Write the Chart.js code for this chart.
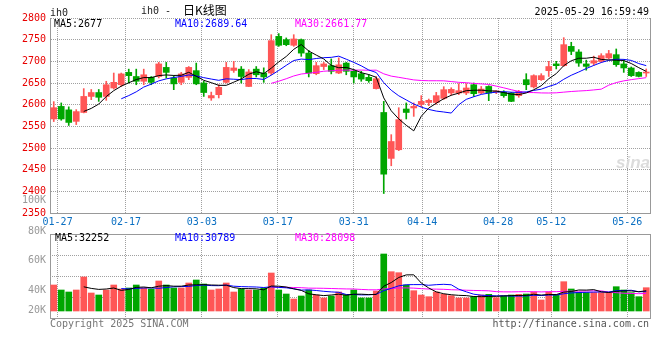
<!DOCTYPE html>
<html>
<head>
<meta charset="utf-8">
<script src="https://cdn.jsdelivr.net/npm/chart.js@4.4.1/dist/chart.umd.min.js"></script>
<style>
html,body{margin:0;padding:0;background:#fff;}
#wrap{position:relative;width:660px;height:360px;overflow:hidden;font-family:"DejaVu Sans Mono",monospace;font-size:10px;}
canvas{position:absolute;left:0;}
.t{position:absolute;white-space:pre;line-height:12px;}
</style>
</head>
<body>
<div id="wrap">
  <canvas id="main" width="660" height="236" style="top:0"></canvas>
  <canvas id="vol" width="660" height="150" style="top:195px"></canvas>
  <span class="t" style="left:50px;top:7px;color:#222">ih0</span>
  <span class="t" style="left:141px;top:5px;color:#222">ih0 -</span>
  <span class="t" style="left:183px;top:3px;font:12px/14px 'Noto Sans CJK SC';color:#000">日K线图</span>
  <span class="t" style="right:11px;top:6px;color:#000">2025-05-29 16:59:49</span>
  <span class="t" style="left:54px;top:18px;color:#000">MA5:2677</span>
  <span class="t" style="left:175px;top:18px;color:#0000ff">MA10:2689.64</span>
  <span class="t" style="left:295px;top:18px;color:#ff00ff">MA30:2661.77</span>
  <span class="t" style="left:55px;top:232px;color:#000">MA5:32252</span>
  <span class="t" style="left:175px;top:232px;color:#0000ff">MA10:30789</span>
  <span class="t" style="left:295px;top:232px;color:#ff00ff">MA30:28098</span>
  <span class="t" style="left:616px;top:153px;font:italic bold 17px/20px 'Liberation Sans';color:#dcdcdc">sina</span>
  <span class="t" style="left:50px;top:318px;color:#777">Copyright 2025 SINA.COM</span>
  <span class="t" style="right:11px;top:318px;color:#555">http://finance.sina.com.cn</span>
</div>
<script>
// ---- data ----
const dates = ['01-24','01-27','02-05','02-06','02-07','02-10','02-11','02-12','02-13','02-14',
'02-17','02-18','02-19','02-20','02-21','02-24','02-25','02-26','02-27','02-28',
'03-03','03-04','03-05','03-06','03-07','03-10','03-11','03-12','03-13','03-14',
'03-17','03-18','03-19','03-20','03-21','03-24','03-25','03-26','03-27','03-28',
'03-31','04-01','04-02','04-03','04-07','04-08','04-09','04-10','04-11','04-14',
'04-15','04-16','04-17','04-18','04-21','04-22','04-23','04-24','04-25','04-28',
'04-29','04-30','05-06','05-07','05-08','05-09','05-12','05-13','05-14','05-15',
'05-16','05-19','05-20','05-21','05-22','05-23','05-26','05-27','05-28','05-29'];

const tickDates = ['01-27','02-17','03-03','03-17','03-31','04-14','04-28','05-12','05-26'];

const open = [2567,2596,2588,2561.5,2582,2619,2628,2619,2638.5,2646,
2674.5,2665,2654,2663,2665,2686,2661.6,2651.5,2663,2678.5,
2650,2615.5,2623,2651.5,2679,2682,2642,2682,2673,2673,
2757.6,2750,2737,2750,2719,2671.5,2688,2690,2673,2696,
2677,2671.5,2663,2637,2582,2476,2496,2590,2592.4,2600.7,
2605,2605,2614.5,2627,2627,2627,2646,2627,2642,2629.3,
2628.4,2627,2620.8,2657.7,2641,2657.7,2678.5,2694,2690,2734.5,
2721.6,2694,2695.8,2700,2707.8,2715.4,2694,2684.7,2674.5,2673];

const high = [2607,2604,2595,2588.5,2637,2635,2635,2654,2673,2673,
2682,2682,2682,2665,2697.6,2697.6,2667,2674.5,2688,2696,
2654,2629,2646,2697.6,2700,2688,2681,2688,2685,2761.5,
2764,2754,2761.5,2751.6,2725,2697.6,2697.6,2705.5,2708,2697.6,
2681,2677,2669,2665,2607.6,2530.8,2593,2604,2604,2620.8,
2613,2628.4,2641.5,2639,2648.5,2648.5,2650,2642,2643.7,2632.3,
2632.3,2628.4,2633,2671.5,2669,2671.5,2700,2700,2754.6,2744,
2727,2702.7,2712,2717.7,2725.3,2728.5,2703.8,2687,2676,2682.4];

const low = [2561,2564,2552,2554,2581,2611.5,2607.6,2610,2636,2642,
2650,2646,2646,2646,2661.6,2661.6,2634.6,2646,2657.7,2646,
2619,2610,2615.5,2650,2674.5,2650,2641.5,2664,2651.5,2669,
2734.5,2736,2734.5,2711.5,2664,2669,2681,2671,2671.5,2669,
2650,2654,2651.5,2636,2395,2459,2494,2567,2573,2594.7,
2597.7,2601,2612,2622,2623,2623,2619,2625.4,2609.2,2625.4,
2617,2607,2617,2634.6,2638.5,2656,2665,2682.4,2688.4,2715.4,
2688.4,2679.6,2691,2697.6,2705.5,2688.4,2674.5,2665,2664,2665];

const close = [2593,2567,2559,2584,2619,2628,2617,2646,2651.5,2671,
2667,2654,2669,2651.5,2694,2674.5,2648,2671,2686,2648,
2628,2621,2640,2686,2684.7,2665,2675.5,2669,2664,2747.7,
2737,2738.5,2751.6,2719,2673,2690,2694,2677,2692,2677,
2664,2659,2655.4,2660,2439.6,2515,2565.4,2582,2596,2607.6,
2610,2620.8,2634.6,2635.3,2632.3,2638.5,2625.4,2636,2627,2630,
2620.8,2607.6,2630.7,2646,2667,2667,2688,2690,2738.5,2723,
2696,2688.4,2701.5,2713,2717.7,2692.3,2684.7,2667,2665.3,2674.5];

const volume = [41600,33600,30400,33600,54400,28800,25600,33600,41600,35200,
36800,41600,36800,35200,48000,41600,36800,36800,44800,49600,
43200,33600,35200,44800,30400,35200,33600,33600,36800,60800,
33600,27200,19200,24000,33600,25600,20800,24000,30400,25600,
33600,20800,20800,32000,91200,62900,61300,41600,32500,25600,
22900,30400,26700,24500,20800,20800,22900,25600,26700,21300,
24000,25600,26700,27200,30400,17600,30400,25600,46900,35200,
30000,29500,29500,29500,29500,38900,33600,29300,22900,37300];

const priceTicks = [2350,2400,2450,2500,2550,2600,2650,2700,2750,2800];
const volTickLabels = ['20K','40K','60K','80K','100K'];

// ---- derived ----
const RED = '#ff5656', GREEN = '#00a600';
const candleColors = close.map((c, i) => c >= open[i] ? RED : GREEN);
function movingAvg(arr, n) {
  return arr.map((_, i) => i < n - 1 ? null : arr.slice(i - n + 1, i + 1).reduce((a, b) => a + b, 0) / n);
}
const tickIdx = tickDates.map(d => dates.indexOf(d));
const MONO = {family: 'DejaVu Sans Mono', size: 10};
const GRID = '#a0a0a0';
const AXIS = '#999999';
const DASH = [1, 1];

function lineDs(data, color, axis) {
  return {type: 'line', data, borderColor: color, borderWidth: 1, pointRadius: 0,
          tension: 0, fill: false, spanGaps: false, order: 0, xAxisID: 'x', yAxisID: axis};
}

const common = {
  responsive: false, animation: false, devicePixelRatio: 1, events: [],
  plugins: {legend: {display: false}, tooltip: {enabled: false}}
};

// dotted horizontal grid lines of the helper scale 'vg' (drawn under the data)
const dottedGrid = {
  id: 'dottedGrid',
  beforeDatasetsDraw(chart) {
    const s = chart.scales.vg;
    if (!s) return;
    const {ctx, chartArea: a} = chart;
    ctx.save();
    ctx.strokeStyle = GRID;
    ctx.lineWidth = 1;
    ctx.setLineDash(DASH);
    [1, 2, 3].forEach(v => {
      const y = Math.round(s.getPixelForValue(v)) + 0.5;
      ctx.beginPath();
      ctx.moveTo(a.left, y);
      ctx.lineTo(a.right, y);
      ctx.stroke();
    });
    ctx.restore();
  }
};

// ---- main (candlestick) chart ----
new Chart(document.getElementById('main'), {
  type: 'bar',
  data: {
    labels: dates,
    datasets: [
      lineDs(movingAvg(close, 5), '#000000', 'y'),
      lineDs(movingAvg(close, 10), '#0000ff', 'y'),
      lineDs(movingAvg(close, 30), '#ff00ff', 'y'),
      {type: 'bar', data: open.map((o, i) => [o, close[i]]), backgroundColor: candleColors,
       barThickness: 6, minBarLength: 1, grouped: false, order: 1, xAxisID: 'x', yAxisID: 'y'},
      {type: 'bar', data: low.map((l, i) => [l, high[i]]), backgroundColor: candleColors,
       barThickness: 1, grouped: false, order: 2, xAxisID: 'x', yAxisID: 'y'}
    ]
  },
  options: Object.assign({}, common, {
    layout: {padding: {top: 18, right: 10, left: 0, bottom: 0}},
    scales: {
      x: {type: 'category', display: false, offset: true, grid: {offset: true}},
      xg: {type: 'linear', position: 'bottom', min: 0, max: dates.length - 1, offset: false,
           afterBuildTicks: s => { s.ticks = tickIdx.map(v => ({value: v})); },
           afterFit: s => { s.height = 23; },
           ticks: {autoSkip: false, maxRotation: 0, minRotation: 0, color: '#0a6fc2', font: MONO, padding: 3,
                   callback: v => dates[v]},
           grid: {offset: false, color: GRID, drawTicks: false, lineWidth: 1},
           border: {display: true, color: AXIS, width: 1, dash: DASH}},
      y: {type: 'linear', position: 'left', min: 2350, max: 2800, beginAtZero: false,
          afterBuildTicks: s => { s.ticks = priceTicks.map(v => ({value: v})); },
          afterFit: s => { s.width = 50; },
          ticks: {autoSkip: false, color: '#e80000', font: MONO, padding: 4, callback: v => String(v)},
          grid: {color: GRID, drawTicks: false, lineWidth: 1},
          border: {display: true, color: AXIS, width: 1, dash: DASH}},
      yr: {type: 'linear', position: 'right', min: 0, max: 1,
           afterFit: s => { s.width = 0; },
           ticks: {display: false}, grid: {display: false, drawTicks: false},
           border: {display: true, color: AXIS, width: 1}}
    }
  })
});

// ---- volume chart ----
// volume axis: value 0 sits at page y 311, 1600 per pixel; tick labels placed where the reference prints them
const VOL_MIN = -11200, VOL_MAX = 123200;
const volLabelValues = [480, 32480, 81600, 128000, 177600];
new Chart(document.getElementById('vol'), {
  type: 'bar',
  data: {
    labels: dates,
    datasets: [
      lineDs(movingAvg(volume, 5), '#000000', 'v'),
      lineDs(movingAvg(volume, 10), '#0000ff', 'v'),
      lineDs(movingAvg(volume, 30), '#ff00ff', 'v'),
      {type: 'bar', data: volume, backgroundColor: candleColors, barThickness: 6,
       grouped: false, order: 1, xAxisID: 'x', yAxisID: 'v'}
    ]
  },
  plugins: [dottedGrid],
  options: Object.assign({}, common, {
    layout: {padding: {top: 39, right: 10, left: 0, bottom: 27}},
    scales: {
      x: {type: 'category', display: false, offset: true, grid: {offset: true}},
      xg: {type: 'linear', position: 'bottom', min: 0, max: dates.length - 1, offset: false,
           afterBuildTicks: s => { s.ticks = tickIdx.map(v => ({value: v})); },
           afterFit: s => { s.height = 0; },
           ticks: {display: false},
           grid: {offset: false, color: GRID, drawTicks: false, lineWidth: 1},
           border: {display: true, color: AXIS, width: 1, dash: DASH}},
      xt: {type: 'linear', position: 'top', min: 0, max: 1, offset: false,
           afterFit: s => { s.height = 0; },
           ticks: {display: false}, grid: {display: false, drawTicks: false},
           border: {display: true, color: AXIS, width: 1}},
      v: {type: 'linear', position: 'left', min: VOL_MIN, max: VOL_MAX, beginAtZero: false,
          afterBuildTicks: s => { s.ticks = volLabelValues.map(v => ({value: v})); },
          afterFit: s => { s.width = 50; },
          ticks: {autoSkip: false, color: '#999999', font: MONO, padding: 4,
                  callback: (v, i) => volTickLabels[i]},
          grid: {display: false, drawTicks: false},
          border: {display: true, color: AXIS, width: 1}},
      vg: {type: 'linear', position: 'right', min: 0, max: 4, beginAtZero: false,
           afterFit: s => { s.width = 0; },
           ticks: {display: false, stepSize: 1},
           grid: {display: false, drawTicks: false},
           border: {display: true, color: AXIS, width: 1}}
    }
  })
});
</script>
</body>
</html>
